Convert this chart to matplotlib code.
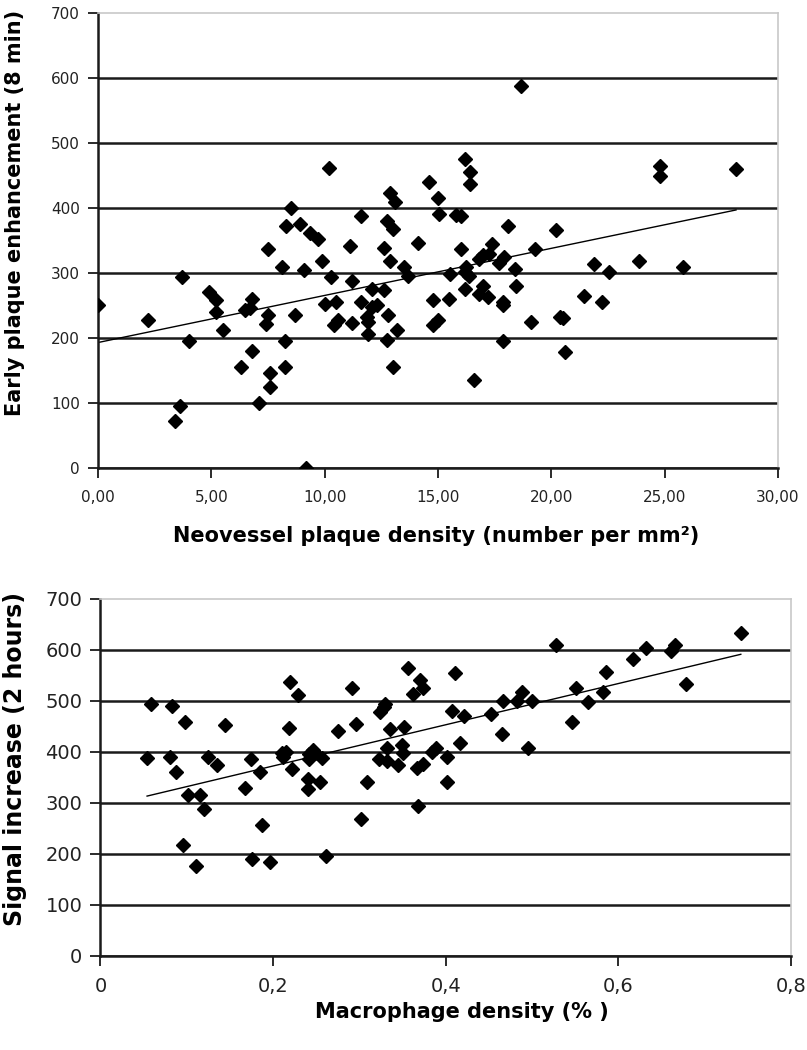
import matplotlib
matplotlib.use("Agg")
import matplotlib.pyplot as plt

# --- DATA ---
# Top panel: neovessel density vs early enhancement
neo_x = [0.0, 2.2, 4.0, 3.7, 3.6, 3.4, 4.9, 5.2, 5.2, 5.5, 6.3, 6.8, 6.5, 6.7, 6.8,
         7.1, 7.5, 7.5, 7.4, 7.6, 7.6, 8.3, 8.1, 8.25, 8.25, 8.5, 8.7, 8.9, 9.1, 9.35,
         9.7, 9.9, 10.2, 10.3, 10.0, 10.5, 10.4, 10.6, 11.2, 11.1, 11.6, 11.2, 11.6,
         11.85, 11.9, 12.1, 12.3, 11.9, 12.1, 12.6, 12.6, 12.9, 12.8, 12.75, 13.2,
         13.0, 12.9, 13.1, 12.75, 13.0, 13.5, 13.7, 14.1, 14.6, 15.0, 15.05, 14.8,
         14.8, 15.0, 15.5, 15.55, 15.8, 16.0, 16.0, 16.2, 16.4, 16.4, 16.25, 16.2,
         16.35, 16.2, 16.6, 16.8, 17.0, 17.25, 17.4, 17.0, 16.8, 17.2, 17.7, 17.9,
         17.85, 17.85, 17.85, 18.1, 18.4, 18.45, 18.65, 19.1, 19.3, 20.2, 20.4, 20.5,
         20.6, 21.45, 21.9, 22.25, 22.55, 23.85, 24.8, 24.8, 25.8, 28.15, 9.2]
early_y = [250, 228, 195, 294, 95, 73, 270, 258, 240, 213, 156, 180, 243, 246, 260,
           100, 337, 236, 222, 146, 125, 372, 309, 196, 156, 400, 236, 376, 305, 362,
           352, 318, 462, 294, 253, 255, 220, 227, 287, 342, 387, 223, 256,
           233, 225, 248, 251, 206, 275, 274, 338, 318, 236, 197, 213,
           156, 423, 410, 380, 367, 310, 295, 346, 440, 416, 391, 258,
           220, 228, 260, 299, 390, 387, 337, 475, 455, 437, 310, 302,
           295, 275, 135, 322, 327, 330, 344, 280, 267, 263, 315, 325,
           256, 250, 195, 373, 306, 280, 587, 225, 337, 366, 233, 231,
           178, 264, 314, 256, 301, 319, 464, 450, 310, 460, 0]
neo_trend_x = [0.0, 28.15]
neo_trend_y = [193, 397]

# Bottom panel: macrophage density vs signal increase
macro_x = [0.054, 0.059, 0.0825, 0.080, 0.087, 0.098, 0.101, 0.115, 0.120, 0.096,
           0.111, 0.125, 0.135, 0.144, 0.168, 0.174, 0.185, 0.1875, 0.176, 0.196,
           0.2196, 0.229, 0.219, 0.210, 0.215, 0.211, 0.2215, 0.2416, 0.246, 0.2485,
           0.242, 0.257, 0.241, 0.241, 0.254, 0.261, 0.275, 0.291, 0.296, 0.309,
           0.302, 0.324, 0.328, 0.330, 0.3355, 0.352, 0.332, 0.323, 0.332, 0.345,
           0.349, 0.350, 0.356, 0.3625, 0.370, 0.374, 0.367, 0.374, 0.368, 0.384,
           0.389, 0.401, 0.401, 0.411, 0.407, 0.421, 0.4166, 0.452, 0.465, 0.4667,
           0.483, 0.489, 0.4997, 0.4957, 0.528, 0.551, 0.546, 0.565, 0.582, 0.586,
           0.617, 0.632, 0.661, 0.666, 0.679, 0.742]
signal_y = [387, 494, 490, 390, 361, 459, 315, 315, 287, 217,
            176, 390, 374, 452, 329, 385, 360, 256, 189, 184,
            536, 512, 446, 398, 400, 390, 367, 395, 403, 397,
            385, 388, 346, 326, 341, 195, 441, 524, 454, 341,
            269, 478, 488, 494, 444, 448, 407, 386, 382, 373,
            413, 397, 565, 514, 541, 524, 369, 376, 294, 400,
            407, 390, 340, 554, 480, 470, 418, 474, 435, 500,
            500, 518, 500, 408, 609, 524, 459, 498, 518, 557,
            581, 603, 597, 609, 533, 633]
macro_trend_x = [0.054, 0.742]
macro_trend_y = [313, 591]

neo_ticks = [0, 5, 10, 15, 20, 25, 30]
neo_ticklabels = ["0,00", "5,00", "10,00", "15,00", "20,00", "25,00", "30,00"]
macro_ticks = [0, 0.2, 0.4, 0.6, 0.8]
macro_ticklabels = ["0", "0,2", "0,4", "0,6", "0,8"]
y_ticks = [0, 100, 200, 300, 400, 500, 600, 700]

plt.rcParams['font.family'] = ['DejaVu Sans']


def style_axes(ax, tick_size):
    ax.set_ylim(0, 700)
    ax.set_yticks(y_ticks)
    for v in y_ticks[:-1]:
        ax.axhline(v, color='#1a1a1a', lw=1.8, zorder=1)
    for s in ['top', 'right']:
        ax.spines[s].set_color('#c8c8c8')
        ax.spines[s].set_linewidth(1.2)
    for s in ['left', 'bottom']:
        ax.spines[s].set_color('#1a1a1a')
        ax.spines[s].set_linewidth(1.8)
    ax.tick_params(direction='out', length=7, width=1.3, color='#1a1a1a',
                   labelsize=tick_size, labelcolor='#222222')


fig = plt.figure(figsize=(8.07, 10.5), dpi=100)

# top panel
ax1 = fig.add_axes([0.1214, 0.5543, 0.8426, 0.4333])
ax1.plot(neo_x, early_y, 'D', color='black', ms=7, zorder=3)
ax1.plot(neo_trend_x, neo_trend_y, color='black', lw=1.0, zorder=2)
ax1.set_xlim(0, 30)
ax1.set_xticks(neo_ticks)
ax1.set_xticklabels(neo_ticklabels)
style_axes(ax1, 11)
ax1.tick_params(axis='x', pad=9)
ax1.tick_params(axis='y', pad=6)
ax1.set_xlabel("Neovessel plaque density (number per mm²)", fontsize=15,
               fontweight='bold')
ax1.xaxis.set_label_coords(0.498, -0.128)
ax1.set_ylabel("Early plaque enhancement (8 min)", fontsize=15,
               fontweight='bold')
ax1.yaxis.set_label_coords(-0.108, 0.56)

# bottom panel
ax2 = fig.add_axes([0.1245, 0.0898, 0.8555, 0.34])
ax2.plot(macro_x, signal_y, 'D', color='black', ms=7, zorder=3)
ax2.plot(macro_trend_x, macro_trend_y, color='black', lw=1.0, zorder=2)
ax2.set_xlim(0, 0.8)
ax2.set_xticks(macro_ticks)
ax2.set_xticklabels(macro_ticklabels)
style_axes(ax2, 14)
ax2.tick_params(axis='x', pad=8)
ax2.tick_params(axis='y', pad=6)
ax2.set_xlabel("Macrophage density (% )", fontsize=15, fontweight='bold')
ax2.xaxis.set_label_coords(0.524, -0.13)
ax2.set_ylabel("Signal increase (2 hours)", fontsize=17, fontweight='bold')
ax2.yaxis.set_label_coords(-0.106, 0.55)

fig.savefig("out.png", dpi=100)
